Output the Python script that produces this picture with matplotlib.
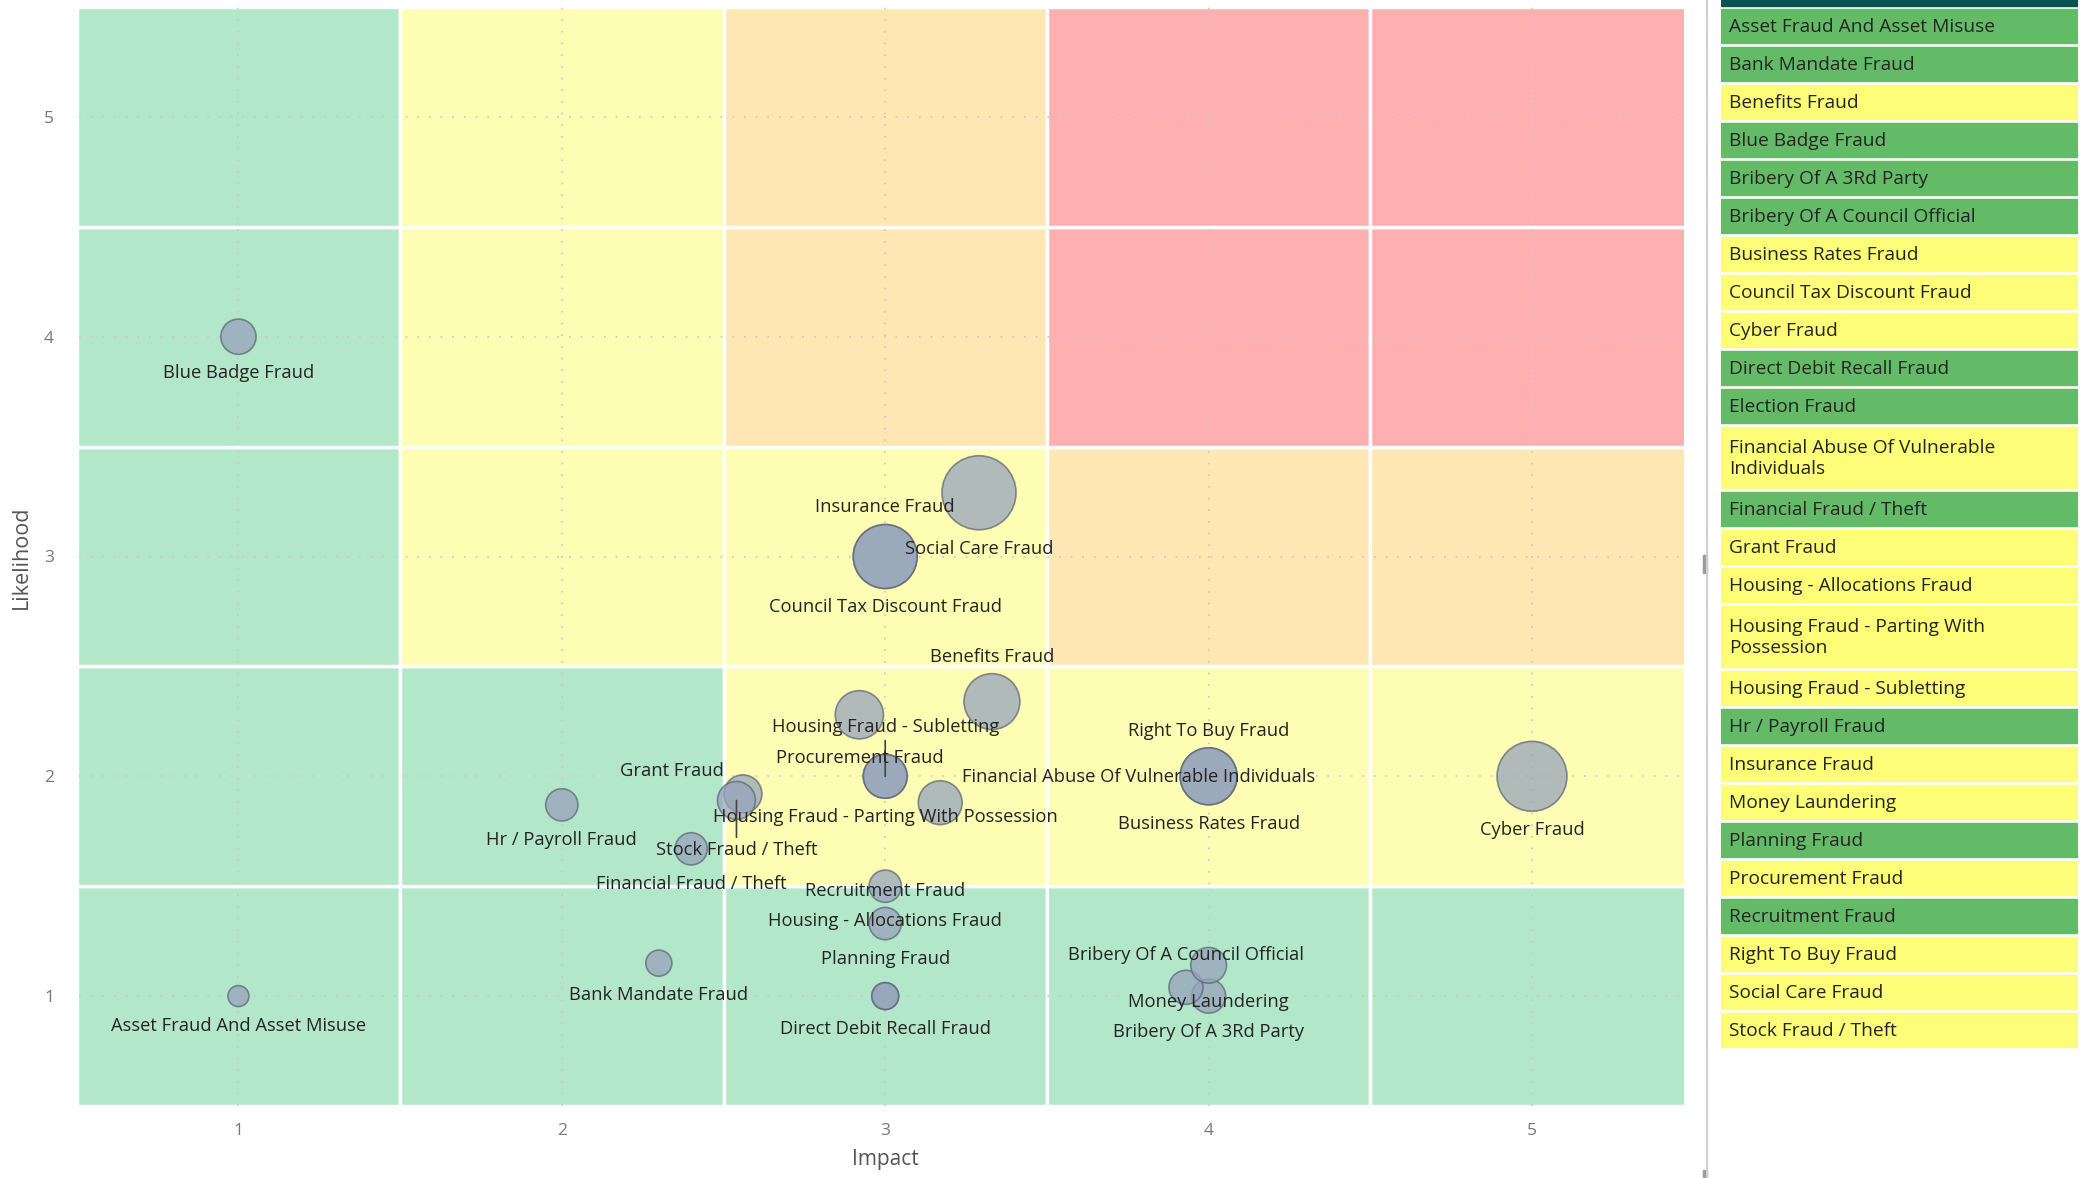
import textwrap
import matplotlib
matplotlib.use('Agg')
import matplotlib.pyplot as plt
from matplotlib.patches import Rectangle
from matplotlib.lines import Line2D

plt.rcParams['font.family'] = ['Open Sans', 'DejaVu Sans']

W, H, DPI = 2089, 1178, 100
PT = 72 / DPI  # points per pixel

# risks plotted on the matrix
names = ['Asset Fraud And Asset Misuse', 'Bank Mandate Fraud', 'Benefits Fraud',
         'Blue Badge Fraud', 'Bribery Of A 3Rd Party', 'Bribery Of A Council Official',
         'Business Rates Fraud', 'Council Tax Discount Fraud', 'Cyber Fraud',
         'Direct Debit Recall Fraud', 'Financial Abuse Of Vulnerable Individuals',
         'Financial Fraud / Theft', 'Grant Fraud', 'Housing - Allocations Fraud',
         'Housing Fraud - Parting With Possession', 'Housing Fraud - Subletting',
         'Hr / Payroll Fraud', 'Insurance Fraud', 'Money Laundering', 'Planning Fraud',
         'Procurement Fraud', 'Recruitment Fraud', 'Right To Buy Fraud',
         'Social Care Fraud', 'Stock Fraud / Theft']
impact = [1.0, 2.30, 3.33, 1.0, 4.0, 3.93, 4.0, 3.0, 5.0, 3.0, 3.17, 2.40, 2.56, 3.0,
          3.0, 3.0, 2.0, 3.0, 4.0, 3.0, 2.92, 3.0, 4.0, 3.29, 2.54]
likelihood = [1.0, 1.15, 2.34, 4.0, 1.0, 1.04, 2.0, 3.0, 2.0, 1.0, 1.88, 1.67, 1.92, 1.5,
              2.0, 2.0, 1.87, 3.0, 1.14, 1.0, 2.28, 1.33, 2.0, 3.29, 1.89]
bubble_size = [11, 17, 78, 31, 29, 29, 81, 102, 122, 18, 48, 26, 36, 26,
               48, 48, 26, 102, 32, 18, 58, 26, 81, 137, 36]

# list on the right
table_names = ['Asset Fraud And Asset Misuse', 'Bank Mandate Fraud', 'Benefits Fraud',
               'Blue Badge Fraud', 'Bribery Of A 3Rd Party', 'Bribery Of A Council Official',
               'Business Rates Fraud', 'Council Tax Discount Fraud', 'Cyber Fraud',
               'Direct Debit Recall Fraud', 'Election Fraud',
               'Financial Abuse Of Vulnerable Individuals', 'Financial Fraud / Theft',
               'Grant Fraud', 'Housing - Allocations Fraud',
               'Housing Fraud - Parting With Possession', 'Housing Fraud - Subletting',
               'Hr / Payroll Fraud', 'Insurance Fraud', 'Money Laundering', 'Planning Fraud',
               'Procurement Fraud', 'Recruitment Fraud', 'Right To Buy Fraud',
               'Social Care Fraud', 'Stock Fraud / Theft']
table_zone = ['g', 'g', 'y', 'g', 'g', 'g', 'y', 'y', 'y', 'g', 'g', 'y', 'g', 'y', 'y',
              'y', 'y', 'g', 'y', 'y', 'g', 'y', 'g', 'y', 'y', 'y']

# heat map zones, rows = likelihood 1..5, cols = impact 1..5
zone_grid = [
    ['g', 'g', 'g', 'g', 'g'],
    ['g', 'g', 'y', 'y', 'y'],
    ['g', 'y', 'y', 'o', 'o'],
    ['g', 'y', 'o', 'r', 'r'],
    ['g', 'y', 'o', 'r', 'r'],
]
zone_colors = {'g': '#b3e7c9', 'y': '#fdfdb4', 'o': '#fee7b2', 'r': '#feb0b0'}
table_colors = {'g': '#63bb68', 'y': '#fdfd78'}

# label placement: (ha, dx px, dy px (down), leader line)
label_layout = {
    'Financial Abuse Of Vulnerable Individuals': ('left', 22, -26, False),
    'Grant Fraud': ('right', -19, -23, False),
    'Housing Fraud - Subletting': ('center', 0, -49, True),
    'Stock Fraud / Theft': ('center', 0, 50, True),
    'Benefits Fraud': ('center', 0, -45, False),
    'Bribery Of A Council Official': ('center', 0, -32, False),
    'Insurance Fraud': ('center', 0, -49, False),
    'Right To Buy Fraud': ('center', 0, -45, False),
    'Recruitment Fraud': ('center', 0, -33, False),
    'Planning Fraud': ('center', 0, -37, False),
}

fig = plt.figure(figsize=(W / DPI, H / DPI), dpi=DPI)
ax = fig.add_axes([79 / W, 1 - 1106 / H, (1684 - 79) / W, (1106 - 7) / H])
ax.set_xlim(0.507, 5.47)
ax.set_ylim(0.5, 5.5)

for r in range(5):
    for c in range(5):
        ax.add_patch(Rectangle((c + 0.5, r + 0.5), 1, 1, facecolor=zone_colors[zone_grid[r][c]],
                               edgecolor='white', lw=2.5, zorder=1))

ax.set_xticks([1, 2, 3, 4, 5])
ax.set_yticks([1, 2, 3, 4, 5])
ax.set_axisbelow('line')
ax.grid(True, linestyle=(0, (1, 6)), color='#c8c8c8', lw=1.2)
ax.tick_params(length=0, labelsize=12.5, labelcolor='#777777')
ax.tick_params(axis='y', pad=18)
ax.tick_params(axis='x', pad=12)
for s in ax.spines.values():
    s.set_visible(False)

sizes = [(2 * (v * 10) ** 0.5 * PT) ** 2 for v in bubble_size]
ax.scatter(impact, likelihood, s=sizes, color='#96a4bc', alpha=0.75,
           edgecolors='#5d6878', linewidths=1.2, zorder=3)

for name, x, y, v in zip(names, impact, likelihood, bubble_size):
    r = (v * 10) ** 0.5
    ha, dx, dy, leader = label_layout.get(name, ('center', 0, r + 19, False))
    kw = {}
    if leader:
        kw['arrowprops'] = dict(arrowstyle='-', color='#444444', lw=1.2, shrinkA=1, shrinkB=0)
    ax.annotate(name, (x, y), xytext=(dx * PT, -dy * PT), textcoords='offset points',
                ha=ha, va='center', fontsize=13.2, color='#252423', zorder=5, **kw)

fig.text(21 / W, 1 - 557 / H, 'Likelihood', rotation=90, ha='center', va='center',
         fontsize=15.5, color='#555555')
fig.text(885 / W, 1 - 1160 / H, 'Impact', ha='center', va='center',
         fontsize=15, color='#555555')

# divider and scroll thumbs
fig.add_artist(Line2D([1707 / W, 1707 / W], [0, 1], color='#cfcfcf', lw=1.5))
fig.add_artist(Rectangle((1703 / W, 1 - 573 / H), 4 / W, 18 / H, color='#9a9a9a'))
fig.add_artist(Rectangle((1703 / W, 0), 4 / W, 8 / H, color='#9a9a9a'))

# table panel in pixel coordinates
tx0, tx1 = 1721, 2078
tab = fig.add_axes([tx0 / W, 0, (tx1 - tx0) / W, 1])
tab.set_xlim(0, tx1 - tx0)
tab.set_ylim(H, 0)
tab.axis('off')
tab.add_patch(Rectangle((0, 0), tx1 - tx0, 5.5, color='#0b5151'))
y0 = 9
for name, zone in zip(table_names, table_zone):
    text = textwrap.fill(name, 29)
    h = 34 + 27 * text.count('\n')
    tab.add_patch(Rectangle((0, y0), tx1 - tx0, h, color=table_colors[zone]))
    tab.text(8, y0 + h / 2 + 1, text, ha='left', va='center', fontsize=13.8,
             color='#252423', linespacing=1.2)
    y0 += h + 4

fig.savefig('out.png', dpi=DPI)
